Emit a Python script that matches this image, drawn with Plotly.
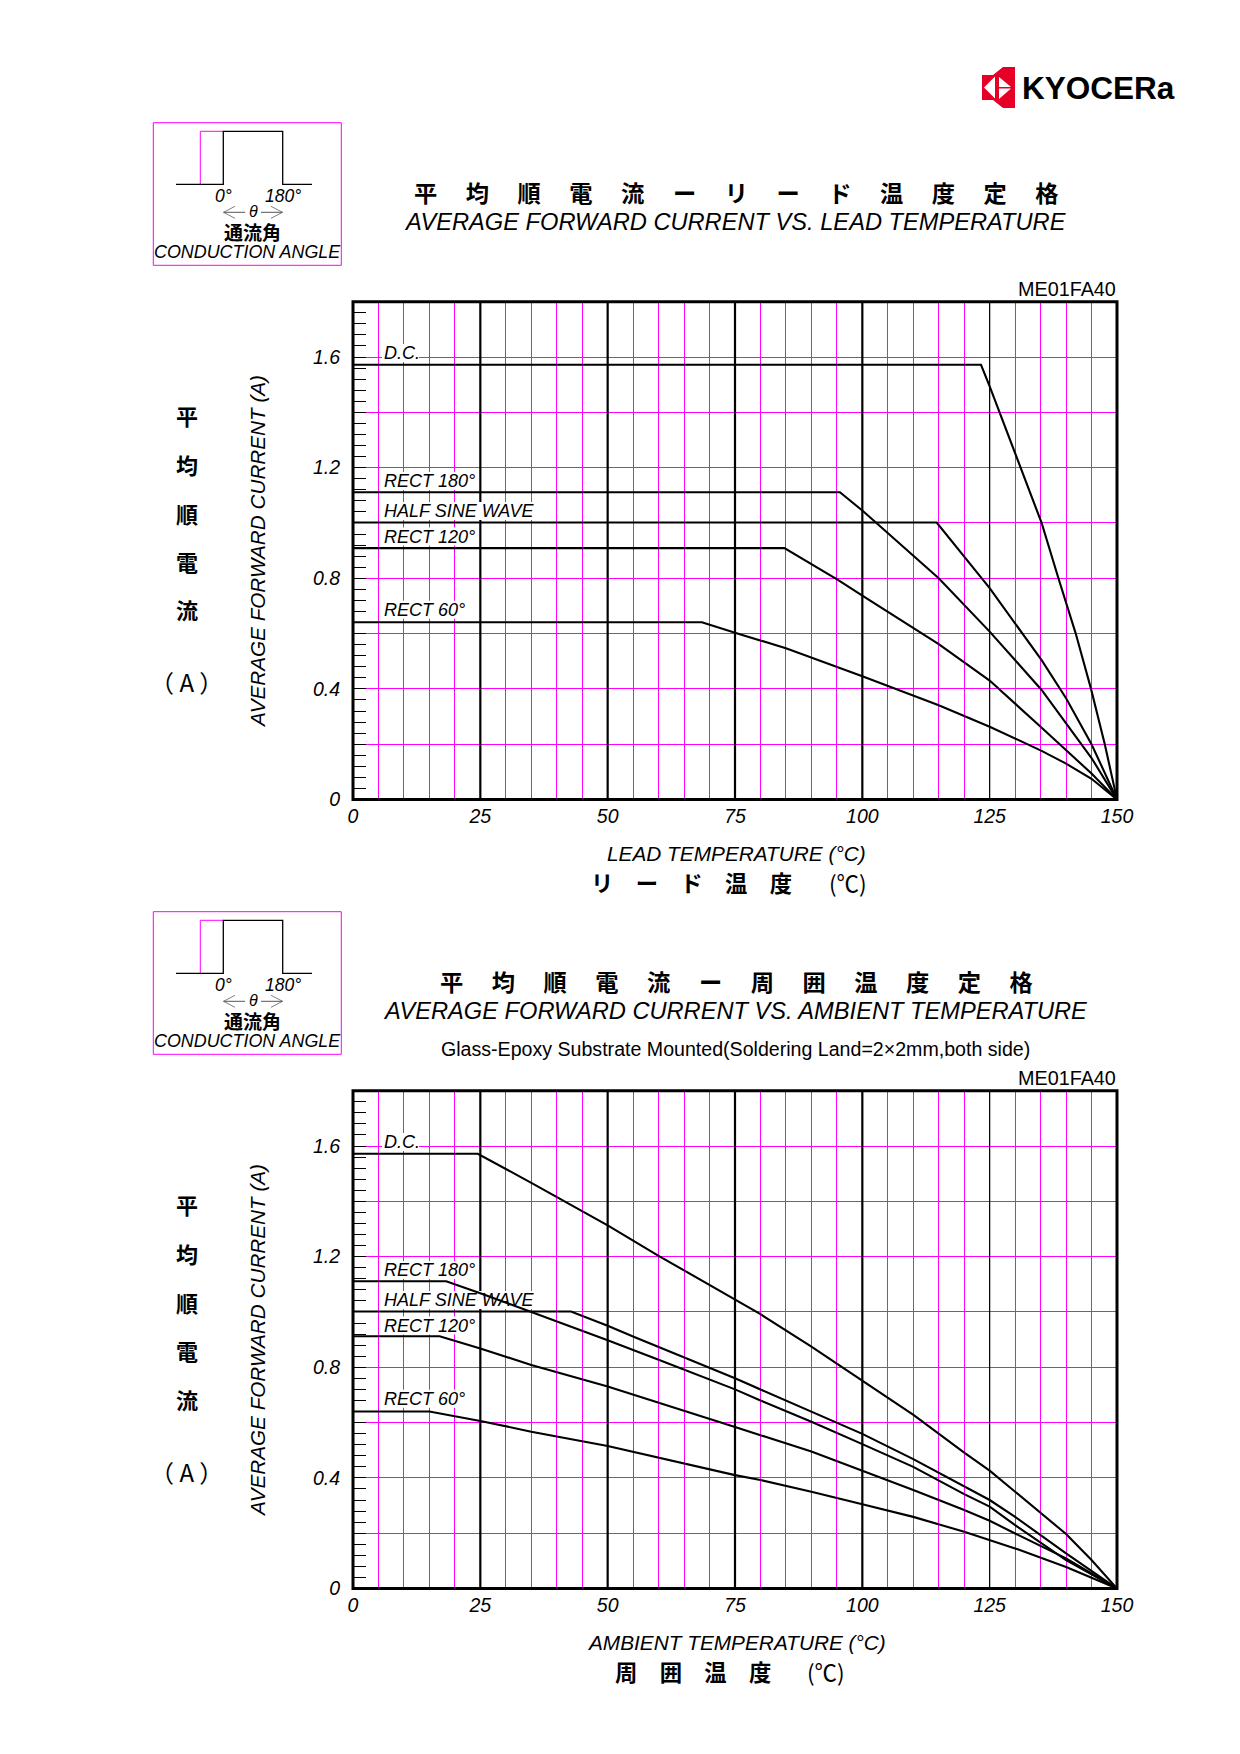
import plotly.graph_objects as go

W, H = 1240, 1754
TEMP_MAX = 150
CUR_MAX = 1.8
OFFSET = 789

SERIES_NAMES = ["D.C.", "RECT 180°", "HALF SINE WAVE", "RECT 120°", "RECT 60°"]

lead_dc_t = [0, 123.3, 125, 131, 135.2, 138.5, 141.9, 144.9, 147.6, 150]
lead_dc_i = [1.572, 1.572, 1.494, 1.2, 1.0, 0.8, 0.6, 0.4, 0.2, 0]
lead_r180_t = [0, 95.6, 100, 115, 125, 135.2, 145, 150]
lead_r180_i = [1.111, 1.111, 1.045, 0.8, 0.607, 0.396, 0.15, 0]
lead_half_t = [0, 114.6, 125, 130, 135.2, 140, 145, 150]
lead_half_i = [1.0015, 1.0015, 0.764, 0.637, 0.504, 0.366, 0.2, 0]
lead_r120_t = [0, 84.7, 95.2, 100, 115, 125, 135, 145, 150]
lead_r120_i = [0.909, 0.909, 0.794, 0.737, 0.562, 0.43, 0.263, 0.094, 0]
lead_r60_t = [0, 68.5, 76.1, 85, 100, 115, 125, 135.2, 140, 145, 150]
lead_r60_i = [0.641, 0.641, 0.597, 0.547, 0.446, 0.341, 0.263, 0.176, 0.13, 0.075, 0]

amb_dc_t = [0, 24.5, 35.1, 50, 60, 75, 80, 90, 100, 110.1, 120, 125, 130, 140, 145, 150]
amb_dc_i = [1.572, 1.572, 1.466, 1.313, 1.203, 1.047, 0.992, 0.875, 0.752, 0.627, 0.491, 0.426, 0.35, 0.197, 0.103, 0]
amb_r180_t = [0, 18.3, 25, 35.1, 50, 60, 75, 80, 90, 100, 110, 120, 125, 130, 140, 150]
amb_r180_i = [1.111, 1.111, 1.068, 1.0, 0.898, 0.827, 0.72, 0.68, 0.603, 0.522, 0.44, 0.341, 0.296, 0.229, 0.103, 0]
amb_half_t = [0, 42.8, 50, 55.1, 75, 80, 90, 100, 110, 120, 125, 130, 140, 150]
amb_half_i = [1.0015, 1.0015, 0.95, 0.91, 0.76, 0.72, 0.64, 0.559, 0.468, 0.368, 0.32, 0.259, 0.127, 0]
amb_r120_t = [0, 17, 25, 35, 50, 65, 75, 90, 100, 110, 120, 125, 130, 140, 150]
amb_r120_i = [0.912, 0.912, 0.868, 0.808, 0.73, 0.643, 0.584, 0.495, 0.426, 0.356, 0.284, 0.245, 0.199, 0.109, 0]
amb_r60_t = [0, 15, 25, 35, 50, 65, 75, 80, 90, 100, 110, 120, 125, 130, 140, 150]
amb_r60_i = [0.64, 0.64, 0.606, 0.567, 0.515, 0.452, 0.41, 0.392, 0.35, 0.305, 0.259, 0.205, 0.175, 0.145, 0.078, 0]

LEAD = [(lead_dc_t, lead_dc_i), (lead_r180_t, lead_r180_i), (lead_half_t, lead_half_i),
        (lead_r120_t, lead_r120_i), (lead_r60_t, lead_r60_i)]
AMB = [(amb_dc_t, amb_dc_i), (amb_r180_t, amb_r180_i), (amb_half_t, amb_half_i),
       (amb_r120_t, amb_r120_i), (amb_r60_t, amb_r60_i)]

X_TICKS = list(range(0, 155, 5))
X_LABELS = [str(v) if v % 25 == 0 else "" for v in X_TICKS]
Y_TICKS = [0, 0.2, 0.4, 0.6, 0.8, 1.0, 1.2, 1.4, 1.6, 1.8]
Y_LABELS = ["0", "", "0.4", "", "0.8", "", "1.2", "", "1.6", ""]
HEAVY_LINES = [25, 50, 75, 100]
THIN_LINES = [125]

LABEL_Y = [353, 481, 511, 536.5, 609.8]
LABEL_W = [37, 92, 152, 92, 83]

SANS = "Liberation Sans"
CJK = "Noto Sans CJK JP"
MAGENTA = "#FF00FF"

L, R = 353.0, 1117.0
T1, B1 = 301.7, 799.5
T2, B2 = T1 + OFFSET, B1 + OFFSET


def px(x):
    return x / W


def py(y):
    return 1 - y / H


fig = go.Figure()
annotations = []
shapes = []


def text(x, y, s, size, family=SANS, italic=False, anchor="center", angle=0, weight="normal", color="#000"):
    annotations.append(dict(
        x=px(x), y=py(y), xref="paper", yref="paper", text=s, showarrow=False,
        xanchor=anchor, yanchor="middle", textangle=angle, borderpad=0,
        font=dict(family=family, size=size, color=color, style="italic" if italic else "normal", weight=weight),
    ))


def seg(points, color, width):
    path = "M " + " L ".join(f"{px(a)} {py(b)}" for a, b in points)
    shapes.append(dict(type="path", path=path, xref="paper", yref="paper", layer="above",
                       line=dict(color=color, width=width)))


def axis_common():
    return dict(showline=False, showgrid=True, gridcolor=MAGENTA, gridwidth=1, zeroline=False, automargin=False,
                tickfont=dict(family=SANS, size=19.5, color="#000", style="italic"), tickangle=0)


def panel(n, top, bottom, curves, x_title, x_title_cjk, x_cjk_center, title_cjk, title_en, off, unit_x, tx):
    xa = "xaxis" if n == 1 else f"xaxis{n}"
    ya = "yaxis" if n == 1 else f"yaxis{n}"
    xr = "x" if n == 1 else f"x{n}"
    yr = "y" if n == 1 else f"y{n}"
    fig.update_layout(**{
        xa: dict(domain=[px(L), px(R)], range=[0, TEMP_MAX], anchor=yr, tickmode="array", ticks="",
                 ticklabelstandoff=3, tickvals=X_TICKS, ticktext=X_LABELS, **axis_common()),
        ya: dict(domain=[py(bottom), py(top)], range=[0, CUR_MAX], anchor=xr, tickmode="array",
                 tickvals=Y_TICKS, ticktext=Y_LABELS, ticks="inside", ticklen=13, tickcolor="#000", tickwidth=1,
                 ticklabelstandoff=12,
                 minor=dict(dtick=0.04, tick0=0, ticks="inside", ticklen=13, tickcolor="#000", tickwidth=1, showgrid=False),
                 **axis_common()),
    })
    for v in HEAVY_LINES + THIN_LINES:
        shapes.append(dict(type="line", xref=xr, yref=yr, x0=v, x1=v, y0=0, y1=CUR_MAX, layer="between",
                           line=dict(color="#000", width=2.2 if v in HEAVY_LINES else 1.2)))
    # white label backings lie between the grid and the curves
    for ly, lw in zip(LABEL_Y, LABEL_W):
        cy = ly + off
        shapes.append(dict(type="rect", xref=xr, yref=yr, layer="between", fillcolor="#fff", line=dict(width=0),
                           x0=(382 - L) / (R - L) * TEMP_MAX, x1=(382 + lw - L) / (R - L) * TEMP_MAX,
                           y0=(bottom - (cy + 9)) / (bottom - top) * CUR_MAX,
                           y1=(bottom - (cy - 9)) / (bottom - top) * CUR_MAX))
    # plot frame centred on the axis ends
    seg([(L, top), (R, top), (R, bottom), (L, bottom), (L, top - 1.5)], "#000", 3)
    for name, (tv, iv) in zip(SERIES_NAMES, curves):
        fig.add_trace(go.Scatter(x=tv, y=iv, mode="lines", name=name, xaxis=xr, yaxis=yr,
                                 line=dict(color="#000", width=2.1), showlegend=False, hoverinfo="skip"))
    for name, ly in zip(SERIES_NAMES, LABEL_Y):
        text(383, ly + off, name, 18, italic=True, anchor="left")

    # titles
    text(tx, 192 + off, title_cjk, 23.25, family=CJK, weight="bold")
    text(tx - 1, 222 + off, title_en, 23.65, italic=True)
    text(1116.5, 289 + off, "ME01FA40", 19.8, anchor="right")
    text(736, 853 + off, x_title, 20.8, italic=True)
    text(x_cjk_center, 882 + off, x_title_cjk, 22.35, family=CJK, weight="bold")
    text(unit_x, 882 + off, "(℃)", 22.5, family=CJK)
    for ch, cy in zip("平均順電流", [414.5, 464.2, 512.5, 560.5, 609.5]):
        text(186.7, cy + off, ch, 22, family=CJK, weight="bold")
    text(186.7, 682 + off, "（ A ）", 24, family=CJK)
    text(257, 552 + off, "AVERAGE FORWARD CURRENT (A)", 20.7, italic=True, angle=-90)

    # conduction angle inset
    seg([(153.3, 122.7 + off), (341.3, 122.7 + off), (341.3, 265.3 + off), (153.3, 265.3 + off), (153.3, 122.7 + off)], MAGENTA, 1)
    seg([(200.3, 184.3 + off), (200.3, 131.3 + off), (223.3, 131.3 + off)], MAGENTA, 1)
    seg([(176, 184.3 + off), (223.3, 184.3 + off), (223.3, 131.3 + off), (282.7, 131.3 + off),
         (282.7, 184.3 + off), (312, 184.3 + off)], "#000", 1.3)
    a = 212.3 + off
    seg([(235, a - 6), (223.5, a), (235, a + 6)], "#808080", 1)
    seg([(223.5, a), (245, a)], "#555", 1)
    seg([(271, a - 6), (282.5, a), (271, a + 6)], "#808080", 1)
    seg([(261, a), (282.5, a)], "#555", 1)
    text(223.3, 196 + off, "0°", 17.5, italic=True)
    text(283, 196 + off, "180°", 17.5, italic=True)
    text(253.3, a - 1, "θ", 16, italic=True)
    text(252.7, 231 + off, "通流角", 19, family=CJK, weight="bold")
    text(247.3, 251.5 + off, "CONDUCTION ANGLE", 17.9, italic=True)


panel(1, T1, B1, LEAD, "LEAD TEMPERATURE (°C)", "リ　ー　ド　温　度", 691,
      "平　 均　 順　 電　 流　 ー　 リ　 ー　 ド　 温　 度　 定　 格",
      "AVERAGE FORWARD CURRENT VS. LEAD TEMPERATURE", 0, 848, 736)
panel(2, T2, B2, AMB, "AMBIENT TEMPERATURE (°C)", "周　囲　温　度", 692.5,
      "平　 均　 順　 電　 流　 ー　 周　 囲　 温　 度　 定　 格",
      "AVERAGE FORWARD CURRENT VS. AMBIENT TEMPERATURE", OFFSET, 826, 736)

text(735, 1049.3, "Glass-Epoxy Substrate Mounted(Soldering Land=2×2mm,both side)", 19.6)

# logo
text(1098, 88, "KYOCERa", 31.5, weight="bold")
LOGO_RED = "#E60027"


def poly(points, color=LOGO_RED):
    path = "M " + " L ".join(f"{px(a)} {py(b)}" for a, b in points) + " Z"
    shapes.append(dict(type="path", path=path, xref="paper", yref="paper", layer="above",
                       fillcolor=color, line=dict(width=0)))


poly([(982, 75), (993, 75), (1003, 67), (1015, 67), (1015, 108), (1003, 108), (993, 100), (982, 100)])
poly([(984, 87.5), (995, 76.5), (995, 98.5)], "#fff")
poly([(999, 77), (1011, 87), (999, 87)], "#fff")
poly([(999, 88.5), (1011, 88.5), (999, 99)], "#fff")

fig.update_layout(width=W, height=H, margin=dict(l=0, r=0, t=0, b=0, autoexpand=False), autosize=False,
                  paper_bgcolor="#fff", plot_bgcolor="#fff", showlegend=False,
                  annotations=annotations, shapes=shapes)

fig.write_html("out.html",
               post_script="document.documentElement.style.overflow='hidden';document.body.style.overflow='hidden';document.body.style.margin='0';",
               config={"displayModeBar": False})
